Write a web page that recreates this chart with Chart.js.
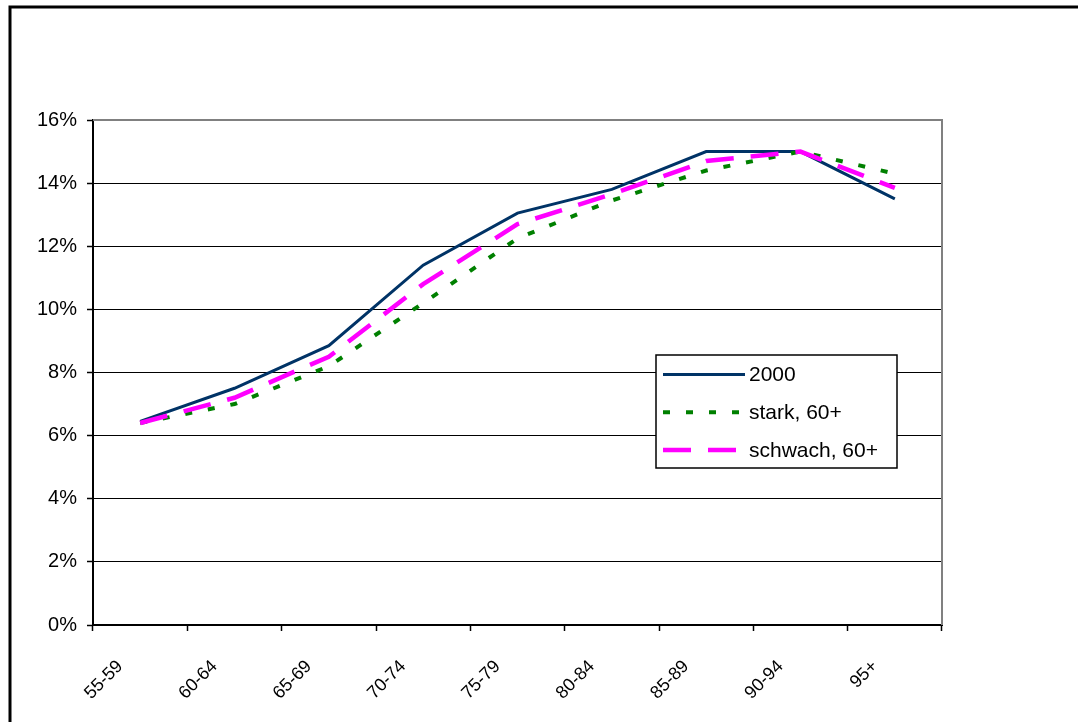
<!DOCTYPE html>
<html>
<head>
<meta charset="utf-8">
<title>Anteile nach Altersgruppe</title>
<script src="https://cdn.jsdelivr.net/npm/chart.js@4"></script>
<style>
  html, body { margin: 0; padding: 0; background: #fff; }
  canvas { display: block; }
</style>
</head>
<body>
<canvas id="ageChart" width="1078" height="722"></canvas>
<script>
// age groups on the x axis
const ageGroups = ['55-59', '60-64', '65-69', '70-74', '75-79', '80-84', '85-89', '90-94', '95+'];

// values in percent
const series2000 = [6.45, 7.5, 8.85, 11.4, 13.05, 13.8, 15.0, 15.0, 13.5];
const seriesStark = [6.4, 7.0, 8.2, 10.2, 12.25, 13.45, 14.4, 15.0, 14.3];
const seriesSchwach = [6.4, 7.2, 8.5, 10.8, 12.7, 13.65, 14.7, 15.0, 13.85];

const seriesNames = ['2000', 'stark, 60+', 'schwach, 60+'];

const yTicks = [0, 2, 4, 6, 8, 10, 12, 14, 16];

const FONT = 'Arial, "Liberation Sans", sans-serif';

// outer frame and plot frame (top + right are grey like the original)
const framePlugin = {
    id: 'frame',
    beforeDraw(chart) {
        const c = chart.ctx;
        c.save();
        c.fillStyle = '#fff';
        c.fillRect(0, 0, chart.width, chart.height);
        c.strokeStyle = '#000';
        c.lineWidth = 3;
        c.beginPath();
        c.moveTo(10, chart.height);
        c.lineTo(10, 7);
        c.lineTo(chart.width, 7);
        c.stroke();
        c.restore();
    },
    beforeDatasetsDraw(chart) {
        const a = chart.chartArea;
        const c = chart.ctx;
        c.save();
        c.strokeStyle = '#808080';
        c.lineWidth = 2;
        c.beginPath();
        c.moveTo(a.left, a.top);
        c.lineTo(a.right, a.top);
        c.lineTo(a.right, a.bottom);
        c.stroke();
        c.restore();
    }
};

// boxed legend inside the plot, like the spreadsheet one
const boxLegend = {
    id: 'boxLegend',
    afterDraw(chart) {
        const c = chart.ctx;
        const x = 656, y = 355, w = 241, h = 113;
        c.save();
        c.fillStyle = '#fff';
        c.fillRect(x, y, w, h);
        c.strokeStyle = '#000';
        c.lineWidth = 1.5;
        c.strokeRect(x, y, w, h);
        chart.data.datasets.forEach((ds, i) => {
            const rowY = y + 19.5 + i * 37.8;
            c.strokeStyle = ds.borderColor;
            c.lineWidth = ds.borderWidth;
            c.setLineDash(ds.borderDash || []);
            c.beginPath();
            c.moveTo(663, rowY);
            c.lineTo(745, rowY);
            c.stroke();
            c.setLineDash([]);
            c.fillStyle = '#000';
            c.font = '21px ' + FONT;
            c.textBaseline = 'middle';
            c.textAlign = 'left';
            c.fillText(ds.label, 749, rowY + 1);
        });
        c.restore();
    }
};

const ctx = document.getElementById('ageChart').getContext('2d');

const chart = new Chart(ctx, {
    type: 'line',
    data: {
        labels: ageGroups,
        datasets: [
            {
                label: seriesNames[0],
                data: series2000,
                borderColor: '#003366',
                borderWidth: 3,
                pointRadius: 0,
                tension: 0,
                order: 2
            },
            {
                label: seriesNames[1],
                data: seriesStark,
                borderColor: '#008000',
                borderWidth: 4,
                borderDash: [7, 16],
                pointRadius: 0,
                tension: 0,
                order: 1
            },
            {
                label: seriesNames[2],
                data: seriesSchwach,
                borderColor: '#ff00ff',
                borderWidth: 4.5,
                borderDash: [28, 17],
                pointRadius: 0,
                tension: 0,
                order: 0
            }
        ]
    },
    options: {
        responsive: false,
        animation: false,
        devicePixelRatio: 1,
        layout: {
            padding: { top: 120, right: 136, left: 0, bottom: 0 }
        },
        plugins: {
            legend: { display: false },
            tooltip: { enabled: false }
        },
        scales: {
            x: {
                offset: true,
                afterFit: function(scale) { scale.height = 97; },
                grid: {
                    offset: true,
                    drawOnChartArea: false,
                    drawTicks: true,
                    tickLength: 6,
                    tickColor: '#000',
                    tickWidth: 1.5
                },
                border: { color: '#000', width: 2 },
                ticks: {
                    autoSkip: false,
                    minRotation: 45,
                    maxRotation: 45,
                    padding: 25,
                    labelOffset: -20,
                    color: '#000',
                    font: { family: FONT, size: 18 }
                }
            },
            y: {
                min: 0,
                max: 16,
                afterFit: function(scale) { scale.width = 93; },
                afterBuildTicks: function(scale) {
                    scale.ticks = yTicks.map(v => ({ value: v }));
                },
                grid: {
                    color: c => (c.tick && c.tick.value === 16) ? '#808080' : '#000',
                    lineWidth: 1,
                    tickLength: 6,
                    tickColor: '#000',
                    tickWidth: 1.5
                },
                border: { color: '#000', width: 2 },
                ticks: {
                    padding: 10,
                    color: '#000',
                    font: { family: FONT, size: 20 },
                    callback: v => v + '%'
                }
            }
        }
    },
    plugins: [framePlugin, boxLegend]
});
</script>
</body>
</html>
